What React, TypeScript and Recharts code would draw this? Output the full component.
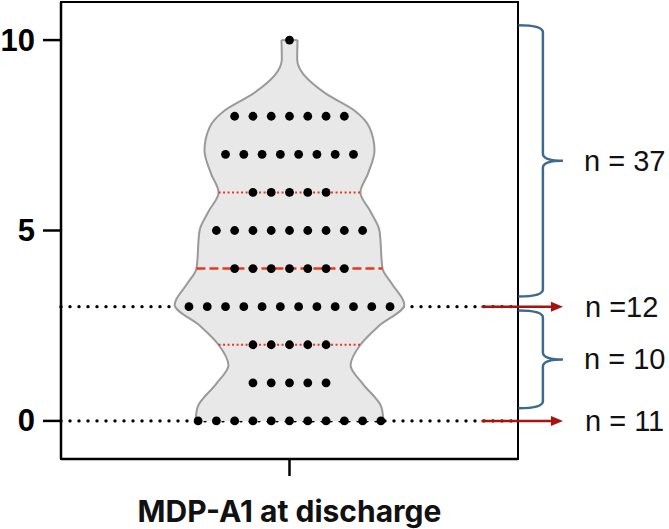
import React from 'react';
import {
  ComposedChart, Area, Scatter, XAxis, YAxis, ReferenceLine, ReferenceArea,
} from 'recharts';

// MDP-A1 scores and how many patients sit at each score
const scores = [0, 1, 2, 3, 4, 5, 6, 7, 8, 9, 10];
const counts = [11, 5, 5, 12, 7, 9, 5, 8, 7, 0, 1];

// violin outline: score level -> half width (in dot spacings)
const violinLevels = [0, 0.36, 0.98, 1.46, 2, 2.5, 3.05, 3.6, 4, 5, 5.5, 6, 6.5, 7.1, 7.7, 8.15, 8.6, 9.2, 9.5, 10];
const violinHalf = [5.14, 5.03, 4.0, 3.34, 3.88, 4.9, 6.28, 5.6, 5.09, 4.92, 4.43, 3.88, 4.3, 4.65, 4.38, 3.55, 1.97, 0.62, 0.42, 0.44];

const median = 4;
const quartiles = [2, 6];

// group annotations: [top, bottom, label]
const braces: [number, number, string][] = [
  [10.39, 3.27, 'n = 37'],
  [2.9, 0.33, 'n = 10'],
];
const arrows: [number, string][] = [
  [3, 'n =12'],
  [0, 'n = 11'],
];

const xLabel = 'MDP-A1 at discharge';

const W = 669;
const H = 529;
const X_MIN = -12.5;
const X_MAX = 12.5;

const violinData = violinLevels.map((v, i) => ({ v, r: [-violinHalf[i], violinHalf[i]] }));

const dots = scores.flatMap((s, i) =>
  Array.from({ length: counts[i] }, (_, k) => ({ x: k - (counts[i] - 1) / 2, v: s }))
);

const halfAt = (v: number) => violinHalf[violinLevels.indexOf(v)];

const NOTE_FONT = '"Liberation Sans", Arial, sans-serif';
const BLUE = '#3d6a8e';
const DARK_RED = '#a8130f';

const Dot = (p: any) => <circle cx={p.cx} cy={p.cy} r={4.4} fill="#000" />;

const Brace = (label: string) => (p: any) => {
  const { x1, y1, x2, y2 } = p;
  const xs = x1 + (x2 - x1) * 0.55;
  const ym = (y1 + y2) / 2;
  const r = 7;
  const d = `M${x1},${y1} Q${xs},${y1} ${xs},${y1 + r} L${xs},${ym - r} Q${xs},${ym} ${x2},${ym}`
    + ` Q${xs},${ym} ${xs},${ym + r} L${xs},${y2 - r} Q${xs},${y2} ${x1},${y2}`;
  return (
    <g>
      <path d={d} fill="none" stroke={BLUE} strokeWidth={2.5} />
      <text x={x2 + 21} y={ym} dominantBaseline="central" fontFamily={NOTE_FONT} fontSize={29} fill="#111">{label}</text>
    </g>
  );
};

const Arrow = (label: string) => (p: any) => {
  const { x1, y1, x2 } = p;
  return (
    <g>
      <line x1={x1} y1={y1} x2={x2 - 10} y2={y1} stroke={DARK_RED} strokeWidth={2.5} />
      <polygon points={`${x2},${y1} ${x2 - 12},${y1 - 5} ${x2 - 12},${y1 + 5}`} fill={DARK_RED} />
      <text x={x2 + 22} y={y1} dominantBaseline="central" fontFamily={NOTE_FONT} fontSize={29} fill="#111">{label}</text>
    </g>
  );
};

const XTick = (p: any) => (
  <text x={p.x} y={p.y + 44} textAnchor="middle" fontFamily="Inter, sans-serif" fontWeight={700} fontSize={30} fill="#111">
    {xLabel}
  </text>
);

const YTick = (p: any) => (
  <text x={p.x} y={p.y} textAnchor="end" dominantBaseline="central" fontFamily={NOTE_FONT} fontWeight={700} fontSize={31} fill="#000">
    {p.payload.value}
  </text>
);

export default function App() {
  return (
    <div style={{ position: 'absolute', left: 0, top: 0, width: W, height: H, background: '#fff' }}>
      <ComposedChart
        width={W}
        height={H}
        data={violinData}
        layout="vertical"
        margin={{ top: 2, right: 151, bottom: 0, left: 0 }}
      >
        <XAxis
          type="number"
          dataKey="x"
          domain={[X_MIN, X_MAX]}
          allowDataOverflow
          ticks={[0]}
          tick={<XTick />}
          tickSize={17}
          axisLine={{ stroke: '#000', strokeWidth: 2.5 }}
          tickLine={{ stroke: '#000', strokeWidth: 2.5 }}
          height={70}
        />
        <YAxis
          type="number"
          dataKey="v"
          domain={[-1, 11]}
          reversed
          allowDataOverflow
          ticks={[0, 5, 10]}
          width={61}
          tickSize={18}
          tickMargin={8}
          tick={<YTick />}
          axisLine={{ stroke: '#000', strokeWidth: 2.5 }}
          tickLine={{ stroke: '#000', strokeWidth: 2.5 }}
        />
        <ReferenceArea
          x1={X_MIN} x2={X_MAX} y1={-1} y2={11}
          fill="none" stroke="#000" strokeWidth={2}
          ifOverflow="visible" zIndex={10}
        />
        {arrows.map(([v]) => (
          <ReferenceLine
            key={`dot-${v}`}
            segment={[{ x: X_MIN, y: v }, { x: 12.3, y: v }]}
            stroke="#000" strokeWidth={3.4} strokeDasharray="0 9" strokeLinecap="round"
            ifOverflow="visible" zIndex={20}
          />
        ))}
        <Area
          dataKey="r"
          type="monotone"
          fill="#e8e8e8"
          fillOpacity={1}
          stroke="#9a9a9a"
          strokeWidth={2}
          isAnimationActive={false}
          dot={false}
          activeDot={false}
          zIndex={100}
        />
        <ReferenceLine
          segment={[{ x: -halfAt(10), y: 10 }, { x: halfAt(10), y: 10 }]}
          stroke="#9a9a9a" strokeWidth={2} ifOverflow="visible" zIndex={150}
        />
        <ReferenceLine
          segment={[{ x: -halfAt(median), y: median }, { x: halfAt(median), y: median }]}
          stroke="#e8381a" strokeWidth={2.5} strokeDasharray="9 4" ifOverflow="visible" zIndex={150}
        />
        {quartiles.map(q => (
          <ReferenceLine
            key={`q-${q}`}
            segment={[{ x: -halfAt(q), y: q }, { x: halfAt(q), y: q }]}
            stroke="#e8381a" strokeWidth={2} strokeDasharray="2 2.5" ifOverflow="visible" zIndex={150}
          />
        ))}
        <Scatter data={dots} shape={<Dot />} isAnimationActive={false} zIndex={600} />
        {arrows.map(([v, label]) => (
          <ReferenceLine
            key={`arr-${v}`}
            segment={[{ x: 10.5, y: v }, { x: 14.96, y: v }]}
            shape={Arrow(label)}
            ifOverflow="visible" zIndex={800}
          />
        ))}
        {braces.map(([top, bottom, label]) => (
          <ReferenceLine
            key={`br-${label}`}
            segment={[{ x: 12.52, y: top }, { x: 14.96, y: bottom }]}
            shape={Brace(label)}
            ifOverflow="visible" zIndex={800}
          />
        ))}
      </ComposedChart>
    </div>
  );
}
